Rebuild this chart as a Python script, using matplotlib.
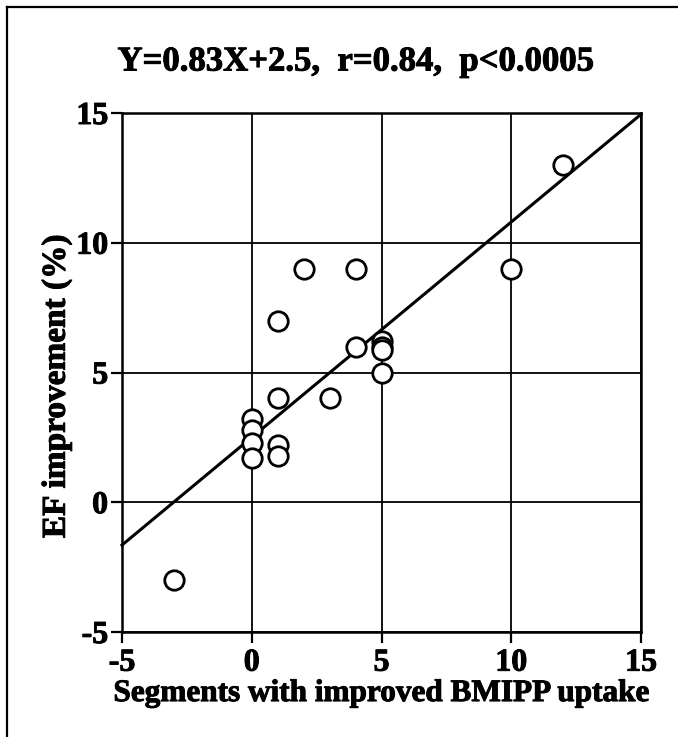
import matplotlib
matplotlib.use("Agg")
import matplotlib.pyplot as plt
from matplotlib.lines import Line2D
import matplotlib.patheffects as pe

# Data
seg_x = [-3, 12, 10, 2, 4, 1, 4, 5, 5, 5, 5, 1, 3, 0, 0, 0, 0, 1, 1]
ef_y = [-3, 13, 9, 9, 9, 7, 6, 5, 6.2, 6.0, 5.85, 4, 4, 3.2, 2.8, 2.3, 1.7, 2.2, 1.8]
slope = 0.83
intercept = 2.5
line_x = [-5, 15]
ticks = [-5, 0, 5, 10, 15]
tick_labels = ["-5", "0", "5", "10", "15"]
title_text = "Y=0.83X+2.5,  r=0.84,  p<0.0005"
xlabel_text = "Segments with improved BMIPP uptake"
ylabel_text = "EF improvement (%)"

plt.rcParams['font.family'] = ['Liberation Serif', 'DejaVu Serif']
plt.rcParams['font.weight'] = 'bold'

heavy = [pe.withStroke(linewidth=0.7, foreground='black')]

fig = plt.figure(figsize=(6.78, 7.37), dpi=100)
ax = fig.add_axes([122/678, 1-632/737, (641-122)/678, (632-113)/737])

ax.set_xlim(-5, 15)
ax.set_ylim(-5, 15)
ax.set_xticks(ticks)
ax.set_yticks(ticks)
ax.set_xticklabels(tick_labels)
ax.set_yticklabels(tick_labels)
ax.grid(True, color='black', linewidth=1.3)
ax.set_axisbelow(True)
for s in ax.spines.values():
    s.set_linewidth(1.8)
ax.tick_params(direction='out', length=8, width=1.6, labelsize=23, pad=2)
ax.tick_params(axis='x', pad=4)
for lab in ax.get_xticklabels() + ax.get_yticklabels():
    lab.set_fontweight('bold')
    lab.set_path_effects(heavy)

ly = [slope * v + intercept for v in line_x]
ax.plot(line_x, ly, color='black', linewidth=2.2, clip_on=False)
ax.plot(seg_x, ef_y, linestyle='none', marker='o', markersize=14,
        markerfacecolor='white', markeredgecolor='black', markeredgewidth=2.0,
        zorder=3, clip_on=False)

xl = ax.set_xlabel(xlabel_text, fontsize=22.5, fontweight='bold', labelpad=1)
yl = ax.set_ylabel(ylabel_text, fontsize=24, fontweight='bold')
xl.set_path_effects(heavy)
yl.set_path_effects(heavy)
ax.yaxis.set_label_coords((72-122)/519, (632-386)/519)
t = fig.text(356/678, 1-62/737, title_text, fontsize=25, fontweight='bold',
             ha='center', va='center')
t.set_path_effects(heavy)

# outer frame
fig.add_artist(Line2D([7/678, 1.0], [1-7/737, 1-7/737], color='black', linewidth=1.6,
                      transform=fig.transFigure))
fig.add_artist(Line2D([7/678, 7/678], [1-7/737, 0.0], color='black', linewidth=1.6,
                      transform=fig.transFigure))

fig.savefig("out.png", dpi=100)
